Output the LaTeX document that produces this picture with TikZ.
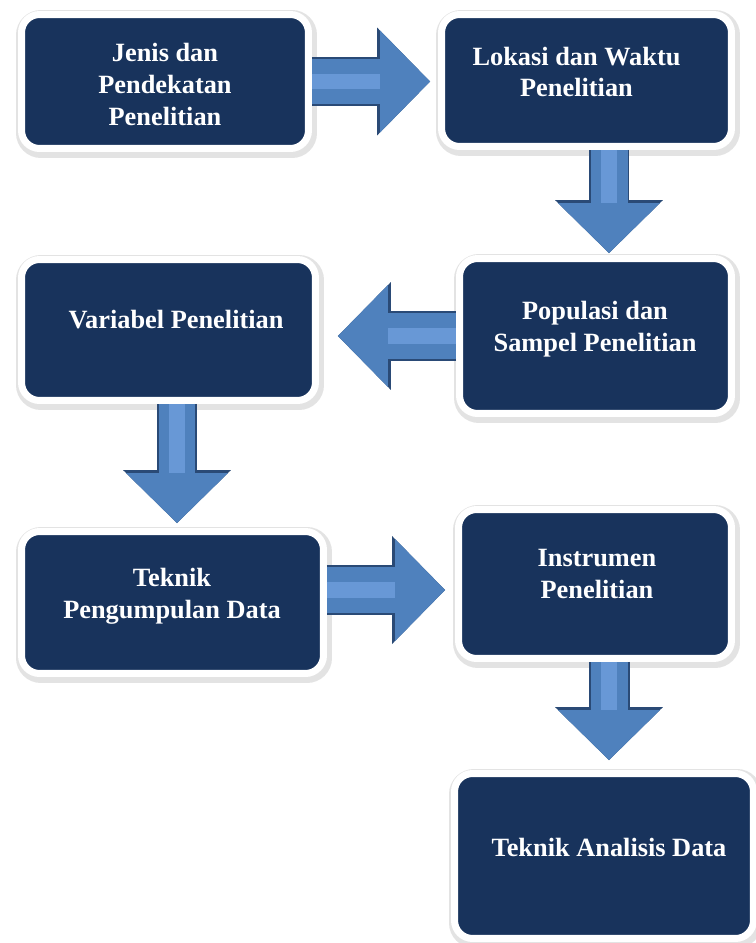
\documentclass[tikz,border=0pt]{standalone}
\usepackage{fontspec}
\setmainfont{Liberation Serif}
\usepackage{tikz}
\usetikzlibrary{arrows.meta,shadows}

\definecolor{boxnavy}{RGB}{24,51,92}
\definecolor{arrowblue}{RGB}{79,129,189}
\definecolor{arrowdark}{RGB}{42,74,118}
\definecolor{arrowlight}{RGB}{104,152,214}

\begin{document}
\begin{tikzpicture}[x=0.02cm, y=-0.02cm,
  box/.style={draw=white, line width=0.14cm, fill=boxnavy, rounded corners=0.36cm,
              inner sep=0pt, outer sep=0pt,
              drop shadow={shadow xshift=0.03cm, shadow yshift=-0.05cm, opacity=0.22,
                           fill=black!50, draw=black!50, line width=0.28cm}},
  txt/.style={text=white, align=center, inner sep=0pt,
              font=\fontsize{15}{18.1}\selectfont\bfseries},
  fatarrow/.style={draw=arrowblue, shorten <=0.07cm,
                   -{Triangle[length=1cm, width=2.04cm, line width=0pt]}},
  rim/.style={draw=arrowdark, -{Triangle[length=1.06cm, width=2.16cm, line width=0pt]}},
  glint/.style={-, draw=arrowlight, line width=0.32cm},
  harrow/.style={fatarrow, line width=0.92cm, shorten >=#1,
                 preaction={rim, line width=1cm}, postaction={glint, shorten >=#1+1cm}},
  varrow/.style={fatarrow, line width=0.74cm, shorten >=#1,
                 preaction={rim, line width=0.82cm}, postaction={glint, shorten >=#1+1cm}}
]
  \path[use as bounding box, fill=white] (0,0) rectangle (755,943);

  % Boxes
  \node[box, minimum width=5.74cm, minimum height=2.68cm] (jenis)       at (165,81.5)   {};
  \node[box, minimum width=5.80cm, minimum height=2.64cm] (lokasi)      at (586.5,80.5) {};
  \node[box, minimum width=5.44cm, minimum height=3.10cm] (populasi)    at (595.5,336)  {};
  \node[box, minimum width=5.88cm, minimum height=2.82cm] (variabel)    at (168.5,330)  {};
  \node[box, minimum width=6.04cm, minimum height=2.84cm] (pengumpulan) at (172.5,602.5) {};
  \node[box, minimum width=5.46cm, minimum height=2.98cm] (instrumen)   at (595,584)    {};
  \node[box, minimum width=5.98cm, minimum height=3.30cm] (analisis)    at (604,856)    {};

  % Labels
  \node[txt] (jenis-t)       at (165,84.5) {Jenis dan\\Pendekatan\\Penelitian};
  \node[txt] (lokasi-t)      at (576.5,72) {Lokasi dan Waktu\\Penelitian};
  \node[txt] (populasi-t)    at (595,329)  {Populasi dan\\Sampel Penelitian};
  \node[txt] (variabel-t)    at (176,320)  {Variabel Penelitian};
  \node[txt] (pengumpulan-t) at (172,596)  {Teknik\\Pengumpulan Data};
  \node[txt] (instrumen-t)   at (597,574)  {Instrumen\\Penelitian};
  \node[txt] (analisis-t)    at (609,847)  {Teknik Analisis Data};

  % Arrows
  \draw[harrow=0.23cm] (jenis.east) -- (jenis.east -| lokasi.west);
  \draw[varrow=0.11cm] ([xshift=0.45cm]lokasi.south)
       -- ([xshift=0.45cm]lokasi.south |- populasi.north);
  \draw[harrow=0.45cm] (populasi.west) -- (populasi.west -| variabel.east);
  \draw[varrow=0.17cm] ([xshift=0.17cm]variabel.south)
       -- ([xshift=0.17cm]variabel.south |- pengumpulan.north);
  \draw[harrow=0.27cm] ([yshift=0.25cm]pengumpulan.east)
       -- ([yshift=0.25cm]pengumpulan.east -| instrumen.west);
  \draw[varrow=0.27cm] ([xshift=0.28cm]instrumen.south)
       -- ([xshift=0.28cm]instrumen.south |- analisis.north);
\end{tikzpicture}
\end{document}
